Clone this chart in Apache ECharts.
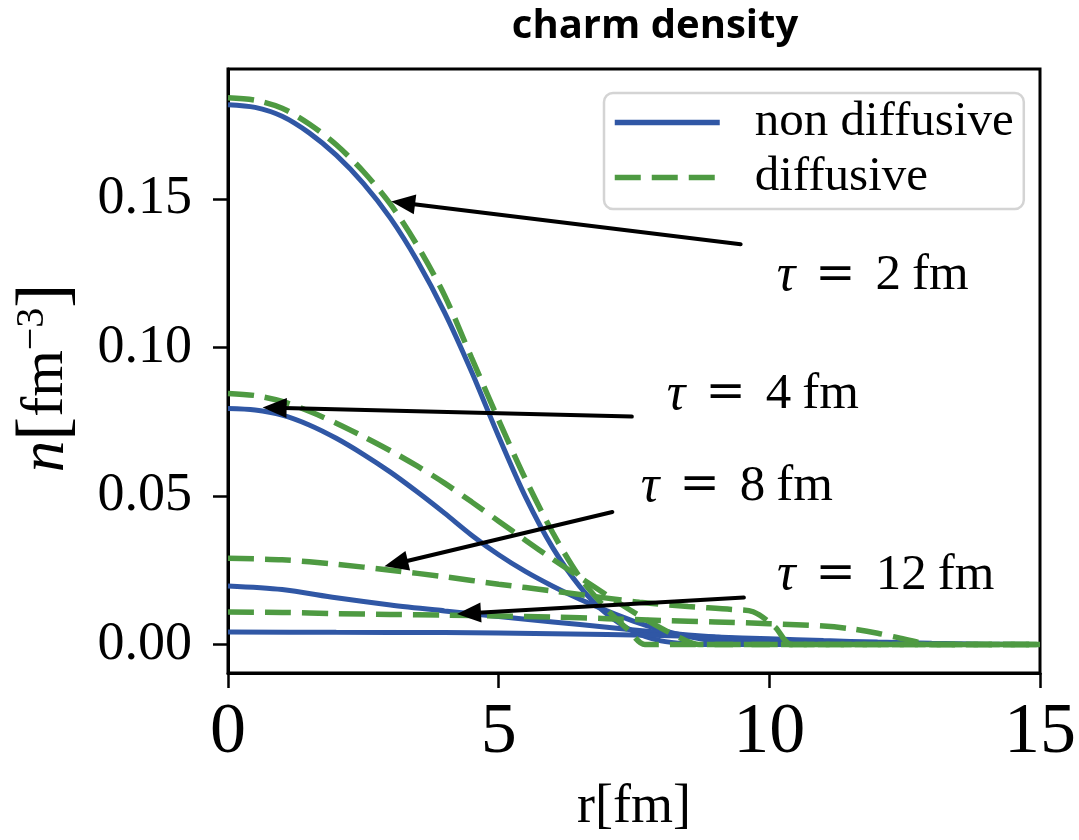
<!DOCTYPE html>
<html><head><meta charset="utf-8">
<script src="https://cdn.jsdelivr.net/npm/echarts@6/dist/echarts.min.js"></script>
<style>html,body{margin:0;padding:0;background:#fff}#c{width:1079px;height:840px}</style>
</head><body><div id="c"></div>
<script>
// ---- data (r in fm, n in fm^-3) ----
const rND2 = [0,0.5,1,1.5,2,2.5,3,3.5,4,4.5,5,5.5,6,6.5,7,7.5,8,8.5,9,10,11,12,13,14,15];
const nND2 = [0.1817,0.1808,0.1778,0.1722,0.1647,0.1552,0.1435,0.1290,0.1118,0.0918,0.0700,0.0495,0.0325,0.0195,0.0102,0.0043,0.0012,0.0002,0,0,0,0,0,0,0];
const rD2  = [0,0.5,1,1.5,2,2.5,3,3.5,4,4.5,5,5.5,6,6.5,7,7.4,7.7,8.5,9.5,10.5,11.5,12.5,13.5,15];
const nD2  = [0.1840,0.1832,0.1805,0.1752,0.1682,0.1592,0.1482,0.1342,0.1175,0.0965,0.0755,0.0555,0.0376,0.0226,0.0118,0.0048,0,0,0,0,0,0,0,0];

const rND4 = [0,0.5,1,1.5,2,2.5,3,3.5,4,4.5,5,5.5,6,6.5,7,7.5,8,8.5,9,9.5,10,10.5,11.5,12.5,13.5,15];
const nND4 = [0.0794,0.0789,0.0772,0.0739,0.0694,0.0640,0.0580,0.0513,0.0442,0.0368,0.0302,0.0245,0.0196,0.0152,0.0113,0.0078,0.0049,0.0027,0.0012,0.0004,0.0001,0,0,0,0,0];
const rD4  = [0,0.5,1,1.5,2,2.5,3,3.5,4,4.5,5,5.5,6,6.5,7,7.5,8,8.4,8.7,9.5,10.5,11.5,12.5,13.5,15];
const nD4  = [0.0845,0.0838,0.0818,0.0785,0.0745,0.0700,0.0652,0.0600,0.0543,0.0480,0.0415,0.0350,0.0287,0.0226,0.0166,0.0108,0.0055,0.0018,0,0,0,0,0,0,0];

const rND8 = [0,1,2,3,4,5,6,7,8,9,10,11,12,13,14,15];
const nND8 = [0.0197,0.0185,0.0157,0.0133,0.0113,0.0094,0.0076,0.0058,0.0040,0.0025,0.0013,0.0006,0.0002,0,0,0];
const rD8  = [0,1,2,3,4,5,6,7,7.6,8.5,9.3,9.7,10.1,10.4,11,12,13,14,15];
const nD8  = [0.0290,0.0285,0.0270,0.0250,0.0228,0.0203,0.0180,0.0156,0.0142,0.0128,0.0118,0.0110,0.0060,0,0,0,0,0,0];

const rND12 = [0,2,4,6,8,9,10,11,12,13,14,15];
const nND12 = [0.0042,0.0041,0.0040,0.0036,0.0030,0.0025,0.0019,0.0013,0.0008,0.0004,0.0001,0];
const rD12  = [0,1,2,3,4,5,6,7,8,9,10,11,11.5,12,12.5,13,14,15];
const nD12  = [0.0109,0.0108,0.0104,0.0101,0.0099,0.0096,0.0092,0.0087,0.0081,0.0076,0.0070,0.0062,0.0053,0.0038,0.0018,0,0,0];

const yTicks = [0, 0.05, 0.10, 0.15];

// annotations: arrow tail -> head, label centre (data coords)
const tauValues  = ['2', '4', '8', '12'];
const arrowFromR = [9.47, 7.46, 7.10, 9.53];
const arrowFromN = [0.1347, 0.0767, 0.0446, 0.0158];
const arrowToR   = [3.015, 0.64, 2.89, 4.23];
const arrowToN   = [0.1491, 0.0798, 0.0263, 0.0103];
const labelR     = [11.91, 9.88, 9.40, 12.15];
const labelN     = [0.1240, 0.0840, 0.0530, 0.0232];

const BLUE = '#3057A5', GREEN = '#4E9A42';
const SERIF = 'Liberation Serif';

function zip(a, b){ return a.map((v, i) => [v, b[i]]); }
function blue(r, n){ return {name:'non diffusive', type:'line', data:zip(r,n), symbol:'none', smooth:0.3,
  lineStyle:{color:BLUE, width:5}, itemStyle:{color:BLUE}, z:2}; }
function green(r, n){ return {name:'diffusive', type:'line', data:zip(r,n), symbol:'none', smooth:0.3,
  lineStyle:{color:GREEN, width:5.5, type:[26,11]}, itemStyle:{color:GREEN}, z:3}; }

const annData = tauValues.map((t, i) => [arrowFromR[i], arrowFromN[i], arrowToR[i], arrowToN[i], labelR[i], labelN[i]]);

const chart = echarts.init(document.getElementById('c'), null, {renderer:'canvas'});
chart.setOption({
  animation:false,
  backgroundColor:'#fff',
  title:{text:'charm density', left:650, top:2, textAlign:'center',
    textStyle:{fontFamily:'Open Sans', fontWeight:'bold', fontSize:40, color:'#000'}},
  grid:{left:228, right:30, top:69, bottom:158, show:true, borderColor:'#000', borderWidth:3, containLabel:false},
  legend:{data:['non diffusive','diffusive'], orient:'vertical', left:604, top:93,
    itemWidth:105, itemHeight:20, itemGap:6,
    itemStyle:{opacity:0}, lineStyle:{width:5.5},
    backgroundColor:'#fff', borderColor:'#d4d4d4', borderWidth:2.5, borderRadius:9, padding:[5,10,7,8],
    formatter: n => '{s|}' + n,
    textStyle:{fontFamily:SERIF, fontSize:49, color:'#000', lineHeight:44, rich:{s:{width:30, lineHeight:44}}}},
  xAxis:{type:'value', min:0, max:15, interval:5,
    axisLine:{show:true, onZero:false, lineStyle:{color:'#000', width:3}},
    axisTick:{show:true, inside:false, length:15, lineStyle:{color:'#000', width:2.5}},
    axisLabel:{fontFamily:SERIF, fontSize:72, color:'#000', margin:24},
    splitLine:{show:false},
    name:'r[fm]', nameLocation:'middle', nameGap:108,
    nameTextStyle:{fontFamily:SERIF, fontSize:54, color:'#000'}},
  yAxis:{type:'value', min:-0.0096, max:0.1937,
    axisLine:{show:true, onZero:false, lineStyle:{color:'#000', width:3}},
    axisTick:{show:true, inside:false, length:15, customValues:yTicks, lineStyle:{color:'#000', width:2.5}},
    axisLabel:{fontFamily:SERIF, fontSize:54, color:'#000', margin:36, customValues:yTicks,
      formatter: v => v.toFixed(2)},
    splitLine:{show:false},
    name:'{i|n}{b|[}{t|fm}{s|−3}{b|]}', nameLocation:'middle', nameGap:148, nameRotate:90,
    nameTextStyle:{color:'#000', padding:[0,14,0,0], rich:{
      i:{fontFamily:SERIF, fontStyle:'italic', fontSize:63, lineHeight:68},
      b:{fontFamily:SERIF, fontSize:72, lineHeight:68},
      t:{fontFamily:SERIF, fontSize:60, lineHeight:68},
      s:{fontFamily:SERIF, fontSize:40, verticalAlign:'top', lineHeight:40}}}},
  series:[
    blue(rND2, nND2), green(rD2, nD2),
    blue(rND4, nND4), green(rD4, nD4),
    blue(rND8, nND8), green(rD8, nD8),
    blue(rND12, nND12), green(rD12, nD12),
    {name:'annotations', type:'custom', coordinateSystem:'cartesian2d', data:annData, z:10, clip:false,
      encode:{x:[0,2,4], y:[1,3,5]},
      renderItem:function(params, api){
        const a = api.coord([api.value(0), api.value(1)]);
        const b = api.coord([api.value(2), api.value(3)]);
        const c = api.coord([api.value(4), api.value(5)]);
        const dx = b[0]-a[0], dy = b[1]-a[1], len = Math.hypot(dx, dy);
        const ux = dx/len, uy = dy/len, L = 24, W = 10;
        const bx = b[0]-ux*L, by = b[1]-uy*L;
        const t = tauValues[params.dataIndex];
        return {type:'group', children:[
          {type:'line', shape:{x1:a[0], y1:a[1], x2:bx+ux*3, y2:by+uy*3}, style:{stroke:'#000', lineWidth:4, lineCap:'round'}},
          {type:'polygon', shape:{points:[[b[0],b[1]],[bx-uy*W, by+ux*W],[bx+uy*W, by-ux*W]]}, style:{fill:'#000'}},
          {type:'text', x:c[0], y:c[1], style:{
            text:'{i|τ}{g|}{e|=}{g|}{n|' + t + '}{h|}{n|fm}', align:'center', verticalAlign:'middle',
            rich:{i:{fontFamily:SERIF, fontStyle:'italic', fontSize:52, fill:'#000'},
                  e:{fontFamily:'DejaVu Serif', fontSize:48, fill:'#000'},
                  g:{width:20},
                  h:{width:11},
                  n:{fontFamily:SERIF, fontSize:51, fill:'#000'}}}}
        ]};
      }}
  ]
});
</script></body></html>
